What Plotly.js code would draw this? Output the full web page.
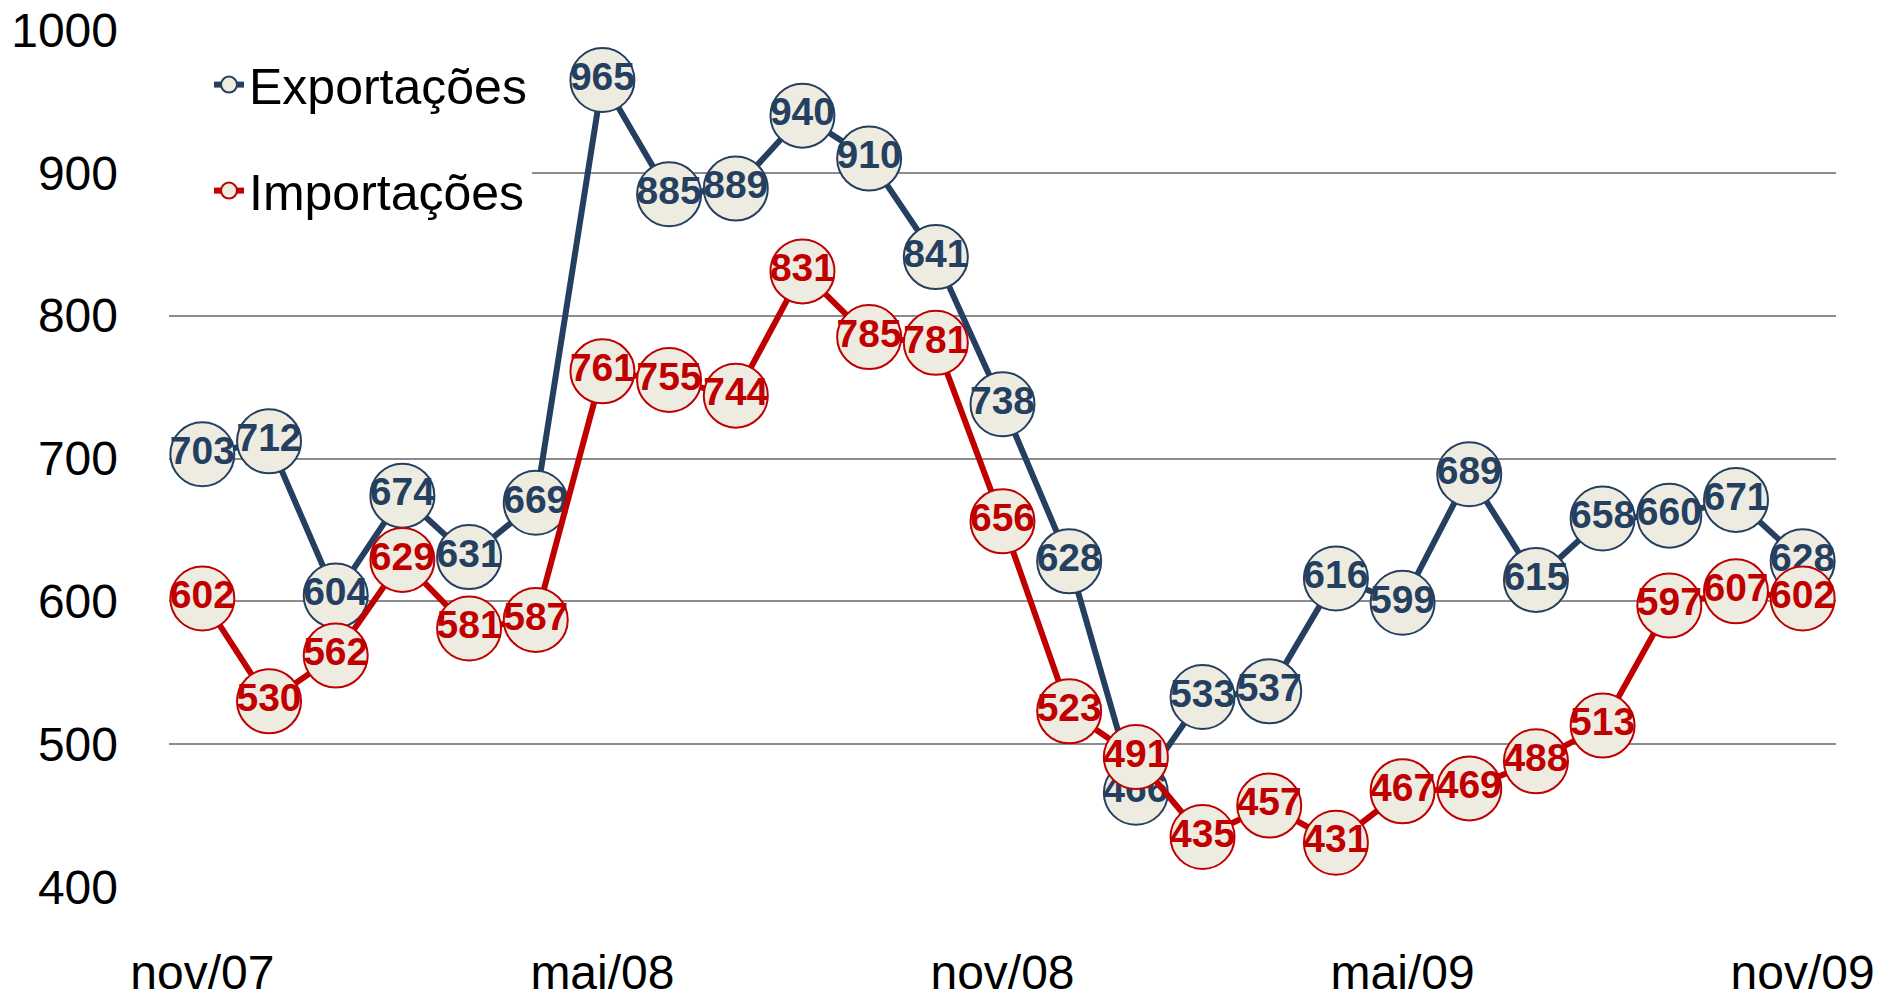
<!DOCTYPE html>
<html>
<head>
<meta charset="utf-8">
<script src="https://cdn.plot.ly/plotly-3.0.1.min.js"></script>
<style>html,body{margin:0;padding:0;background:#fff;}#chart{width:1888px;height:998px;}</style>
</head>
<body>
<div id="chart"></div>
<script>
const months = ["nov/07","dez/07","jan/08","fev/08","mar/08","abr/08","mai/08","jun/08","jul/08","ago/08","set/08","out/08","nov/08","dez/08","jan/09","fev/09","mar/09","abr/09","mai/09","jun/09","jul/09","ago/09","set/09","out/09","nov/09"];
const exportacoes = [703,712,604,674,631,669,965,885,889,940,910,841,738,628,466,533,537,616,599,689,615,658,660,671,628];
const importacoes = [602,530,562,629,581,587,761,755,744,831,785,781,656,523,491,435,457,431,467,469,488,513,597,607,602];
const xTicks = ["nov/07","mai/08","nov/08","mai/09","nov/09"];
const yTicks = [400,500,600,700,800,900,1000];

const FONT = "Liberation Sans, Arial, sans-serif";
const BLUE = "#243F60";
const RED = "#C00000";
const FILL = "#EEECE1";

function serie(name, vals, color, group) {
  return {
    type: "scatter",
    mode: "lines+markers+text",
    name: name,
    legendgroup: group,
    x: months,
    y: vals,
    text: vals.map(String),
    textposition: "middle center",
    textfont: {family: FONT, size: 39, color: color, weight: "bold"},
    line: {color: color, width: 6},
    marker: {size: 64, color: FILL, line: {color: color, width: 2}},
    cliponaxis: false,
    hoverinfo: "x+y"
  };
}

const data = [
  serie("Exportações", exportacoes, BLUE, "a"),
  serie("Importações", importacoes, RED, "b")
];

const layout = {
  width: 1888, height: 998,
  margin: {l: 169, r: 52, t: 30, b: 111},
  paper_bgcolor: "#fff", plot_bgcolor: "#fff",
  font: {family: FONT, size: 50, color: "#000"},
  showlegend: true,
  legend: {
    x: 0, y: 1, xanchor: "left", yanchor: "top",
    bgcolor: "#fff", borderwidth: 0,
    font: {family: FONT, size: 50, color: "#000"},
    title: {text: " ", font: {family: FONT, size: 12}},
    tracegroupgap: 38, indentation: 40,
    valign: "middle"
  },
  xaxis: {
    type: "category",
    range: [-0.5, 24.5],
    tickmode: "array", tickvals: xTicks, ticktext: xTicks,
    showgrid: false, zeroline: false, showline: false,
    ticks: "", ticklabelstandoff: 53,
    tickfont: {family: FONT, size: 48, color: "#000"},
    fixedrange: true
  },
  yaxis: {
    range: [400, 1000],
    tickmode: "array", tickvals: yTicks,
    showgrid: true, gridcolor: "#8c8c8c", gridwidth: 2,
    zeroline: false, showline: false, ticks: "",
    ticklabelstandoff: 50,
    tickfont: {family: FONT, size: 48, color: "#000"},
    fixedrange: true
  }
};

Plotly.newPlot("chart", data, layout, {displayModeBar: false, staticPlot: true});
</script>
</body>
</html>
